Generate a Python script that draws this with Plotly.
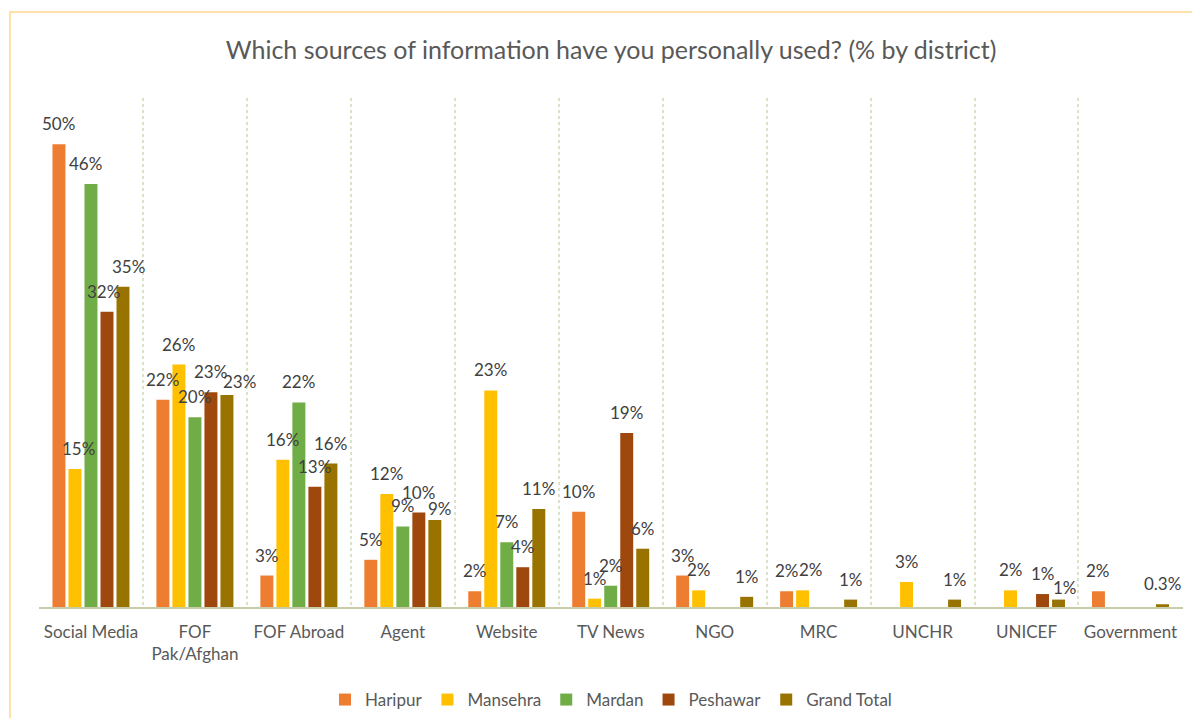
import plotly.graph_objects as go

categories = [
    "Social Media", "FOF<br>Pak/Afghan", "FOF Abroad", "Agent", "Website",
    "TV News", "NGO", "MRC", "UNCHR", "UNICEF", "Government",
]

haripur = [50.0, 22.4, 3.4, 5.1, 1.7, 10.3, 3.4, 1.7, None, None, 1.7]
mansehra = [14.9, 26.2, 15.9, 12.2, 23.4, 0.9, 1.8, 1.8, 2.7, 1.8, None]
mardan = [45.7, 20.5, 22.1, 8.7, 7.0, 2.3, None, None, None, None, None]
peshawar = [31.9, 23.2, 13.0, 10.2, 4.3, 18.8, None, None, None, 1.4, None]
grand_total = [34.6, 22.9, 15.5, 9.4, 10.6, 6.3, 1.1, 0.8, 0.8, 0.8, 0.3]

series = [
    ("Haripur", haripur, "#ED7D31"),
    ("Mansehra", mansehra, "#FFC000"),
    ("Mardan", mardan, "#70AD47"),
    ("Peshawar", peshawar, "#9E480E"),
    ("Grand Total", grand_total, "#997300"),
]

# label nudges (px) where Excel moved colliding labels aside
nudges = {
    ("Mansehra", "Social Media"): (4, 0),
    ("Mardan", "Social Media"): (-5, 0),
    ("Peshawar", "Social Media"): (-3, 0),
    ("Grand Total", "Social Media"): (5, 0),
    ("Grand Total", "FOF<br>Pak/Afghan"): (13, -7),
    ("Grand Total", "Agent"): (5, -9),
    ("Mansehra", "MRC"): (8, 0),
    ("Grand Total", "UNICEF"): (6, -8),
}

FONT = "Lato"

# page body has an 8px margin, so the figure is sized to fit inside it
W, H = 1184, 710
L, R, T, B = 31, 9, 90, 111
plot_w = W - L - R
plot_h = H - T - B
BARGAP = 0.23
BARGROUPGAP = 0.19
slot = plot_w / len(categories) * (1 - BARGAP) / len(series)


def label(v):
    if v < 0.5:
        return f"{v:.1f}%"
    return f"{round(v):.0f}%"


fig = go.Figure()
annotations = []

for i, (name, vals, color) in enumerate(series):
    fig.add_trace(
        go.Bar(
            x=categories,
            y=vals,
            name=name,
            marker=dict(color=color, line=dict(width=0)),
            hoverinfo="skip",
        )
    )
    for cat, v in zip(categories, vals):
        if v is None:
            continue
        dx, dy = nudges.get((name, cat), (0, 0))
        annotations.append(
            dict(
                x=cat,
                y=v,
                xref="x",
                yref="y",
                text=label(v),
                showarrow=False,
                xshift=(i - (len(series) - 1) / 2) * slot + dx,
                yshift=8 + dy,
                yanchor="bottom",
                font=dict(family=FONT, size=17, color="#404040"),
            )
        )

fig.update_layout(
    width=W,
    height=H,
    margin=dict(l=L, r=R, t=T, b=B, autoexpand=False),
    paper_bgcolor="white",
    plot_bgcolor="white",
    barmode="group",
    bargap=BARGAP,
    bargroupgap=BARGROUPGAP,
    title=dict(
        text="Which sources of information have you personally used? (% by district)",
        x=0.5,
        xref="paper",
        y=1 - 42 / H,
        yanchor="middle",
        font=dict(family=FONT, size=25, color="#595959"),
    ),
    legend=dict(
        orientation="h",
        x=0.5,
        xanchor="center",
        yref="container",
        y=(H - 692) / H,
        yanchor="middle",
        font=dict(family=FONT, size=17, color="#595959"),
        itemwidth=30,
        traceorder="normal",
    ),
    xaxis=dict(
        type="category",
        tickson="boundaries",
        showgrid=True,
        gridcolor="#DCE2C8",
        griddash="dot",
        gridwidth=1.5,
        showline=True,
        linecolor="#C8CCAA",
        linewidth=1.5,
        ticks="",
        ticklabelstandoff=9,
        tickfont=dict(family=FONT, size=17, color="#595959"),
    ),
    yaxis=dict(
        range=[0, 55],
        visible=False,
        showgrid=False,
        zeroline=False,
    ),
    annotations=annotations,
    shapes=[
        dict(
            type="rect",
            xref="paper",
            yref="paper",
            x0=(2 - L) / plot_w,
            x1=1.05,
            y0=-0.3,
            y1=(H - B - 4) / plot_h,
            line=dict(color="#FFE2AA", width=2),
            fillcolor="rgba(0,0,0,0)",
            layer="below",
        )
    ],
)

fig.write_html("out.html")
